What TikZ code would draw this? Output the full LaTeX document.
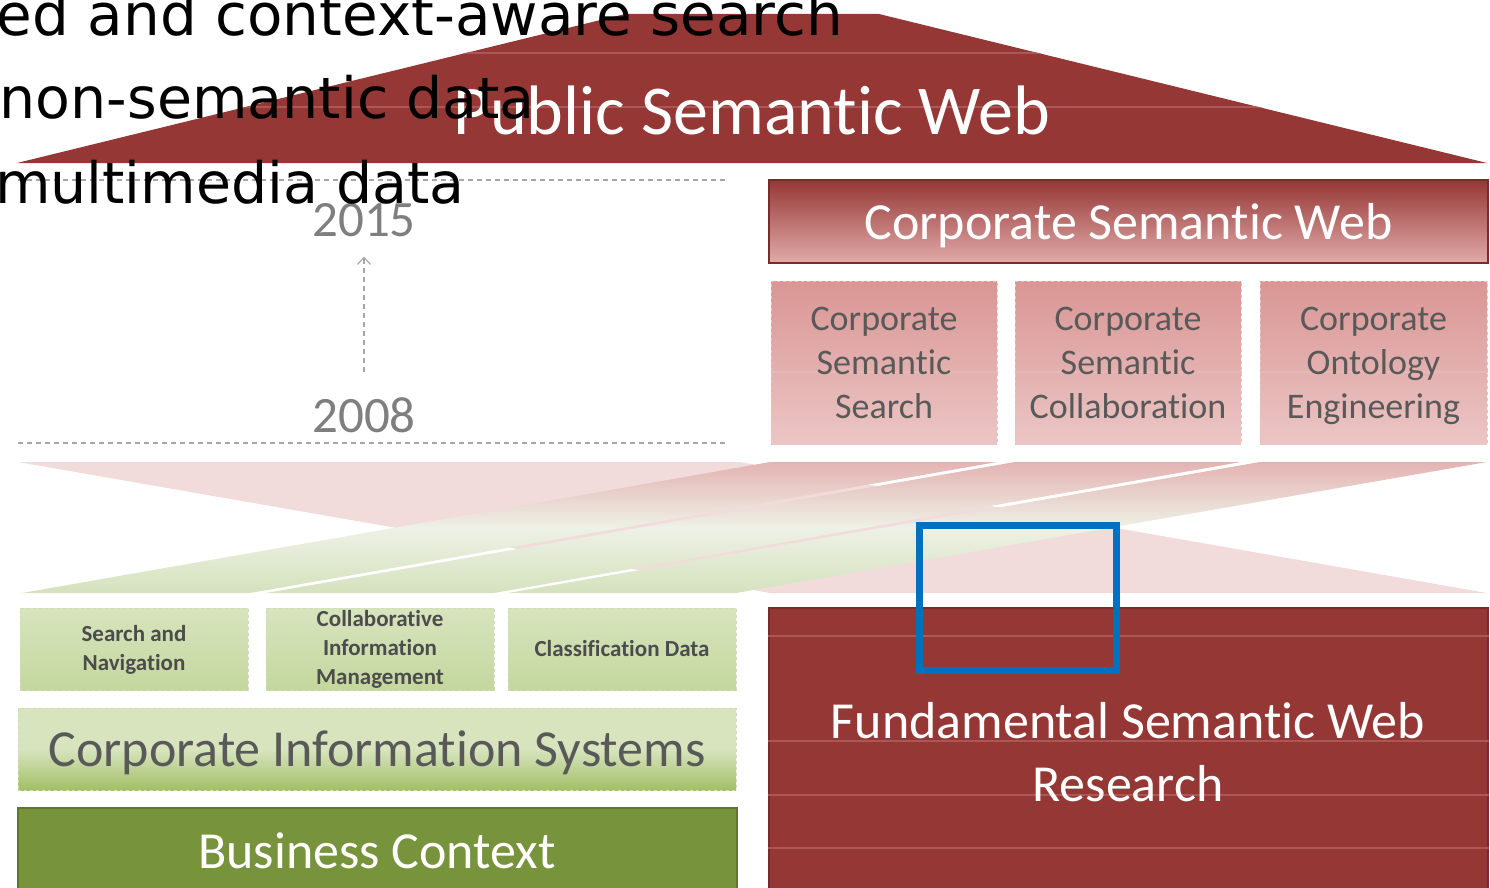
\documentclass[tikz,border=0pt]{standalone}
\usepackage{fontspec}
\setmainfont{Carlito}[RawFeature={-liga;-clig;-calt;-dlig}]
\newfontfamily\overlayfont{DejaVu Sans}
\usetikzlibrary{arrows.meta}
\definecolor{roofred}{HTML}{953735}
\definecolor{roofdark}{HTML}{7A2A28}
\definecolor{pinkA}{HTML}{D99694}
\definecolor{pinkB}{HTML}{EBC6C5}
\definecolor{pinkline}{HTML}{E8C2C1}
\definecolor{palepink}{HTML}{F2DCDB}
\definecolor{bandtop}{HTML}{E3B3B2}
\definecolor{bandmid}{HTML}{EEF1E6}
\definecolor{bandbot}{HTML}{D5E2BD}
\definecolor{greenA}{HTML}{D8E4BE}
\definecolor{greenB}{HTML}{C4D79E}
\definecolor{greenC}{HTML}{A3BF66}
\definecolor{greenline}{HTML}{CFDDB2}
\definecolor{bizgreen}{HTML}{77933C}
\definecolor{bizdark}{HTML}{5E762E}
\definecolor{txtgray}{HTML}{595959}
\definecolor{yeargray}{HTML}{7F7F7F}
\definecolor{dashgray}{HTML}{A6A6A6}
\definecolor{hlblue}{HTML}{0070C0}
\definecolor{artline}{HTML}{AA5755}
\begin{document}
\begin{tikzpicture}[x=1pt,y=-1pt,
  redbox/.style={draw=roofdark, fill=roofred, line width=1.2pt, inner sep=0pt},
  cswbox/.style={draw=roofdark, line width=1.2pt, top color=roofred, bottom color=pinkA!80!white, inner sep=0pt},
  subred/.style={draw=pinkline, dashed, line width=1pt, top color=pinkA, bottom color=pinkB, inner sep=0pt},
  subredtxt/.style={text=txtgray, align=center, inner sep=0pt, font=\fontsize{36}{44}\selectfont},
  subgreen/.style={draw=greenline, dashed, line width=1pt, top color=greenA, bottom color=greenB, inner sep=0pt},
  subgreentxt/.style={text=txtgray!85!black, align=center, inner sep=0pt, font=\bfseries\fontsize{23}{29}\selectfont},
  cisbox/.style={draw=greenline, dashed, line width=1pt, top color=greenA, bottom color=greenC, middle color=greenA, inner sep=0pt},
  bizbox/.style={draw=bizdark, fill=bizgreen, line width=1.2pt, inner sep=0pt},
  bigtxt/.style={inner sep=0pt, font=\fontsize{52}{63}\selectfont},
  yearlbl/.style={text=yeargray, inner sep=0pt, font=\fontsize{51}{60}\selectfont},
  timeline/.style={draw=dashgray, dash pattern=on 5pt off 4pt, line width=1.2pt},
  overlay/.style={inner sep=0pt, anchor=base east, font=\overlayfont\fontsize{57}{68}\selectfont},
  band/.style={shade, top color=bandtop, bottom color=bandbot, middle color=bandmid},
  faint/.style={draw=artline, line width=1.2pt}
]
\useasboundingbox (0,0) rectangle (1490,888);

% roof
\fill[roofred] (17,163) -- (625,14) -- (879,14) -- (1487,163) -- cycle;
\begin{scope}
  \clip (17,163) -- (625,14) -- (879,14) -- (1487,163) -- cycle;
  \draw[faint] (0,107) -- (1490,107);
  \draw[faint] (0,53) -- (1490,53);
\end{scope}
\node[text=white, inner sep=0pt, anchor=base, font=\fontsize{70}{84}\selectfont] (psw) at (752,135) {Public Semantic Web};

% timeline
\coordinate (tl1a) at (18,180); \coordinate (tl1b) at (728,180);
\coordinate (tl2a) at (18,443); \coordinate (tl2b) at (728,443);
\draw[timeline] (tl1a) -- (tl1b);
\draw[timeline] (tl2a) -- (tl2b);
\node[yearlbl, anchor=base] (y2015) at (364,236) {2015};
\node[yearlbl, anchor=base] (y2008) at (364,432) {2008};
\draw[draw=dashgray, dash pattern=on 5pt off 4pt, line width=1.2pt, -{Straight Barb[length=7pt,width=13pt]}, shorten <=25pt, shorten >=20pt] (y2008.north) -- (y2015.south);

% corporate semantic web
\node[cswbox, minimum width=719pt, minimum height=83pt] (csw) at (1128.5,221.5) {};
\node[bigtxt, text=white] (cswtxt) at (1128.5,225.5) {Corporate Semantic Web};
\node[subred, minimum width=226pt, minimum height=163pt] (css) at (884,362.5) {};
\node[subred, minimum width=226pt, minimum height=163pt] (csc) at (1128,362.5) {};
\node[subred, minimum width=227pt, minimum height=163pt] (coe) at (1373.5,362.5) {};
\foreach \bx in {css,csc,coe} \draw[draw=pinkB!70!pinkA, line width=1.2pt] (\bx.west |- 0,372) -- (\bx.east |- 0,372);
\node[subredtxt] (csstxt) at (884,366) {\strut Corporate\\Semantic\\Search\strut};
\node[subredtxt] (csctxt) at (1128,366) {\strut Corporate\\Semantic\\Collaboration\strut};
\node[subredtxt] (coetxt) at (1373.5,366) {\strut Corporate\\Ontology\\Engineering\strut};

% crossing bands
\fill[palepink] (18,462) -- (740,462) -- (1487,593) -- (770,593) -- cycle;
\path[band] (22,593) -- (250,593) -- (997,462) -- (770,462) -- cycle;
\path[band] (266,593) -- (494,593) -- (1241,462) -- (1015,462) -- cycle;
\path[band] (508,593) -- (736,593) -- (1487,462) -- (1260,462) -- cycle;

% green side
\node[subgreen, minimum width=228pt, minimum height=82pt] (sn) at (134,649) {};
\node[subgreen, minimum width=228pt, minimum height=82pt] (cim) at (380,649) {};
\node[subgreen, minimum width=228pt, minimum height=82pt] (cd) at (622,649) {};
\node[subgreentxt] (sntxt) at (134,650) {\strut Search and\\Navigation\strut};
\node[subgreentxt] (cimtxt) at (380,650) {\strut Collaborative\\Information\\Management\strut};
\node[subgreentxt] (cdtxt) at (622,651) {\strut Classification Data\strut};
\node[cisbox, minimum width=718pt, minimum height=82pt] (cis) at (377,749) {};
\node[bigtxt, text=txtgray] (cistxt) at (377,753) {Corporate Information Systems};
\node[bizbox, minimum width=719pt, minimum height=100pt] (biz) at (377.5,858) {};
\node[bigtxt, text=white, anchor=base] (biztxt) at (377,868) {Business Context};

% fundamental research
\node[redbox, minimum width=719pt, minimum height=300pt] (fsw) at (1128.5,758) {};
\foreach \yy in {636,741,795,848} \draw[faint] (fsw.west |- 0,\yy) -- (fsw.east |- 0,\yy);
\node[bigtxt, text=white, align=center] (fswtxt) at (1128,752) {Fundamental Semantic Web\\Research};

% highlight
\node[draw=hlblue, line width=7pt, minimum width=197pt, minimum height=145pt, inner sep=0pt] (hl) at (1018,598) {};

% overlay text
\node[overlay, font=\overlayfont\fontsize{58}{68}\selectfont] (ov1) at (843,36) {ed and context-aware search};
\node[overlay] (ov2) at (535,118) {non-semantic data};
\node[overlay] (ov3) at (465,203) {multimedia data};
\end{tikzpicture}
\end{document}
